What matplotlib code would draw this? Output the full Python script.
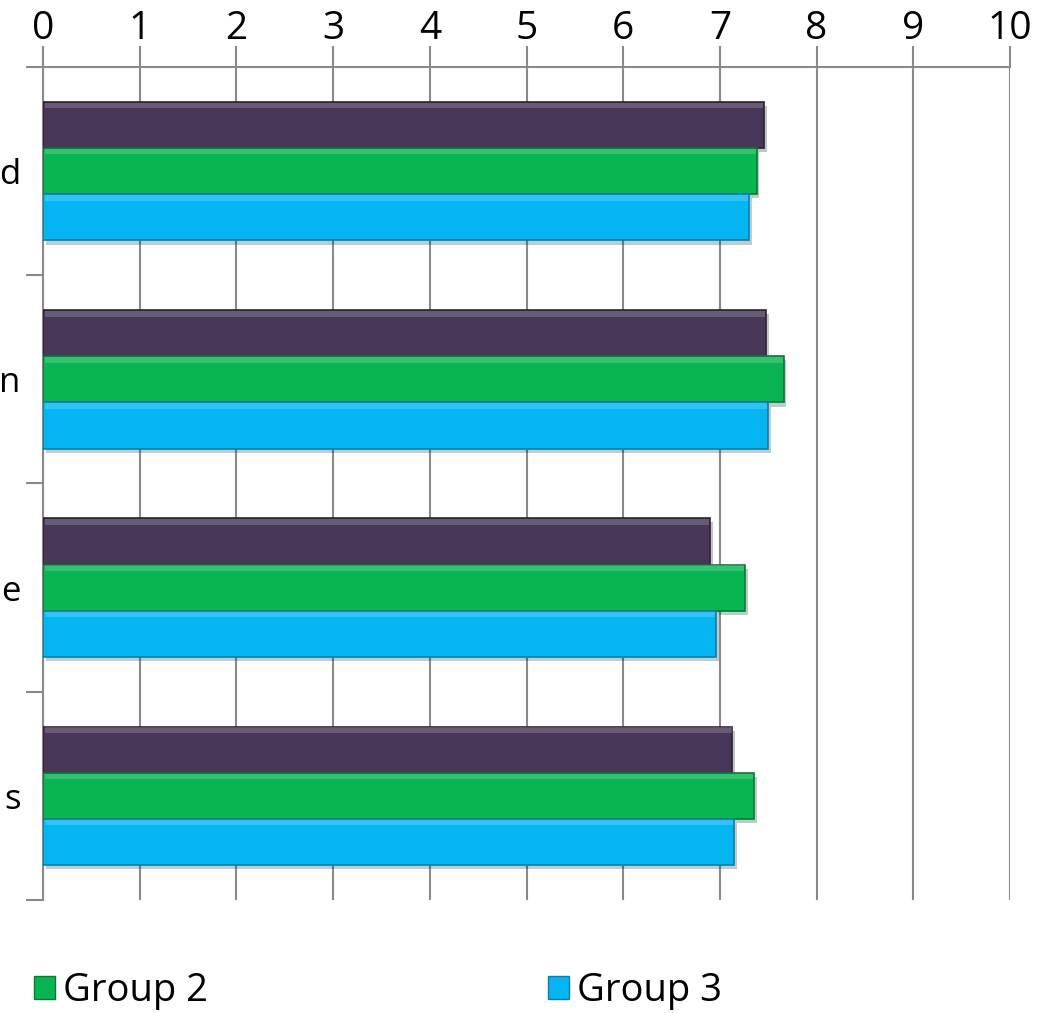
import numpy as np
import matplotlib
matplotlib.use("Agg")
import matplotlib.pyplot as plt
from matplotlib.patches import Patch
import matplotlib.patheffects as pe

plt.rcParams['font.family'] = ['Open Sans', 'DejaVu Sans']

# category labels (only the last letters are visible in the picture)
categories = ["d", "n", "e", "s"]
group1 = [7.46, 7.48, 6.90, 7.13]
group2 = [7.38, 7.66, 7.26, 7.35]
group3 = [7.30, 7.50, 6.96, 7.15]

colors = ["#483759", "#08B552", "#05B5F2"]
edges = ["#2E2238", "#067A38", "#0A7FA8"]

fig = plt.figure(figsize=(10.52, 10.13), dpi=100)
ax = fig.add_axes([43 / 1052, 1 - 900 / 1013, (1010 - 43) / 1052, (900 - 67) / 1013])

y = np.arange(len(categories))
h = 0.222
shadow = [pe.SimplePatchShadow(offset=(2, -3), alpha=0.25), pe.Normal()]
for off, vals, c, ec in zip([-h, 0, h], [group1, group2, group3], colors, edges):
    bars = ax.barh(y + off, vals, height=h, color=c, edgecolor=ec, linewidth=1.2, zorder=3)
    for b in bars:
        b.set_path_effects(shadow)
    # light bevel highlight along the top edge of each bar
    ax.barh(y + off - h * 0.42, np.array(vals) - 0.03, height=h * 0.12, left=0.02,
            color="white", alpha=0.18, linewidth=0, zorder=4)

ax.set_xlim(0, 10)
ax.set_ylim(3.5, -0.5)
ax.xaxis.tick_top()
ax.set_xticks(np.arange(0, 11, 1))
ax.tick_params(axis='x', which='major', length=15, width=1.5, color="#8A8A8A",
               labelsize=28, pad=-1)
ax.grid(axis='x', color="#8A8A8A", linewidth=1.5, zorder=0)

ax.set_yticks(y)
ax.set_yticklabels(categories)
ax.set_yticks(np.arange(-0.5, 4, 1), minor=True)
ax.tick_params(axis='y', which='major', length=0, labelsize=25, pad=16)
ax.tick_params(axis='y', which='minor', length=12, width=1.5, color="#8A8A8A")

for s in ['right', 'bottom']:
    ax.spines[s].set_visible(False)
for s in ['top', 'left']:
    ax.spines[s].set_color("#8A8A8A")
    ax.spines[s].set_linewidth(1.5)

handles = [Patch(facecolor=colors[1], edgecolor=edges[1]),
           Patch(facecolor=colors[2], edgecolor=edges[2])]
fig.legend(handles, ["Group 2", "Group 3"], ncol=2, loc='center left',
           bbox_to_anchor=(0, 1 - 991 / 1013), frameon=False,
           fontsize=27.5, handlelength=0.55, handleheight=0.55,
           handletextpad=0.2, columnspacing=8.9)

fig.savefig("out.png", dpi=100)
